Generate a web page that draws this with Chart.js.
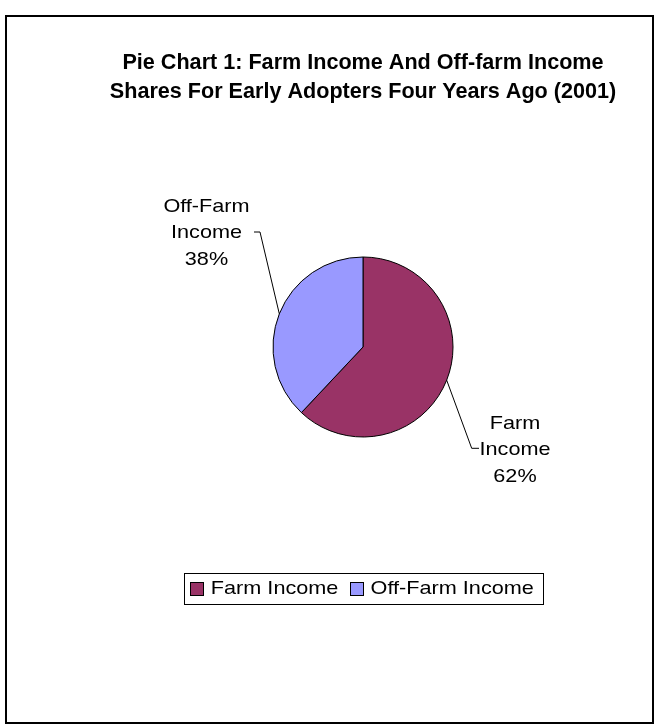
<!DOCTYPE html>
<html>
<head>
<meta charset="utf-8">
<script src="https://cdn.jsdelivr.net/npm/chart.js@4.4.1/dist/chart.umd.min.js"></script>
<style>
html,body{margin:0;padding:0;background:#fff;}
#wrap{width:655px;height:725px;position:relative;}
canvas{display:block;}
</style>
</head>
<body>
<div id="wrap"><canvas id="c" width="655" height="725"></canvas></div>
<script>
// ---- data ----
const categories = ['Farm Income', 'Off-Farm Income'];
const shares = [62, 38];
const titleLines = ['Pie Chart 1: Farm Income And Off-farm Income', 'Shares For Early Adopters Four Years Ago (2001)'];

const FONT = "Arial, 'Liberation Sans', Helvetica, sans-serif";

const framePlugin = {
  id: 'frame',
  beforeDraw(chart) {
    const ctx = chart.ctx;
    ctx.save();
    ctx.fillStyle = '#fff';
    ctx.fillRect(0, 0, chart.width, chart.height);
    ctx.strokeStyle = '#000';
    ctx.lineWidth = 2;
    ctx.strokeRect(6, 16, 647, 707);
    ctx.restore();
  }
};

function stretchedText(ctx, text, x, y, sx) {
  ctx.save();
  ctx.translate(x, y);
  ctx.scale(sx, 1);
  ctx.fillText(text, 0, 0);
  ctx.restore();
}

const sliceLabelPlugin = {
  id: 'sliceLabels',
  afterDatasetsDraw(chart, args, opts) {
    const meta = chart.getDatasetMeta(0);
    const data = chart.data.datasets[0].data;
    const total = data.reduce((a, b) => a + b, 0);
    const ctx = chart.ctx;
    ctx.save();
    ctx.font = opts.fontSize + 'px ' + FONT;
    ctx.fillStyle = '#000';
    ctx.textAlign = 'center';
    ctx.textBaseline = 'middle';
    meta.data.forEach((arc, i) => {
      const p = arc.getProps(['x', 'y', 'startAngle', 'endAngle', 'outerRadius'], true);
      const mid = (p.startAngle + p.endAngle) / 2;
      const ex = p.x + Math.cos(mid) * p.outerRadius;
      const ey = p.y + Math.sin(mid) * p.outerRadius;
      const pl = opts.placements[i];
      const lx = p.x + pl.dx * p.outerRadius;
      const ly = p.y + pl.dy * p.outerRadius;
      const bx = lx + pl.elbowDx, by = ly + pl.elbowDy;
      ctx.beginPath();
      ctx.moveTo(ex, ey);
      ctx.lineTo(bx, by);
      ctx.lineTo(bx + pl.tick, by);
      ctx.strokeStyle = '#000';
      ctx.lineWidth = 1;
      ctx.stroke();
      const pct = Math.round(data[i] / total * 100) + '%';
      const lines = chart.data.labels[i].split(' ').concat([pct]);
      lines.forEach((t, k) => {
        stretchedText(ctx, t, lx, ly + (k - (lines.length - 1) / 2) * opts.lineHeight, opts.scaleX);
      });
    });
    ctx.restore();
  }
};

const boxLegendPlugin = {
  id: 'boxLegend',
  afterDraw(chart, args, opts) {
    const ctx = chart.ctx;
    const ds = chart.data.datasets[0];
    ctx.save();
    ctx.font = opts.fontSize + 'px ' + FONT;
    const items = chart.data.labels.map((l, i) => ({
      text: l,
      color: ds.backgroundColor[i],
      w: ctx.measureText(l).width * opts.scaleX
    }));
    let total = opts.padL + opts.padR + opts.itemGap * (items.length - 1);
    items.forEach(it => { total += opts.box + opts.gap + it.w; });
    const meta = chart.getDatasetMeta(0);
    const cx = meta.data[0].x + opts.shiftX;
    const left = cx - total / 2;
    const top = opts.top, h = opts.height;
    const cy = top + h / 2;
    ctx.strokeStyle = '#000';
    ctx.lineWidth = 1;
    ctx.strokeRect(Math.round(left) + 0.5, top + 0.5, Math.round(total), h);
    let x = left + opts.padL;
    ctx.textAlign = 'left';
    ctx.textBaseline = 'middle';
    items.forEach(it => {
      ctx.fillStyle = it.color;
      const bx = Math.round(x), by = Math.round(cy - opts.box / 2);
      ctx.fillRect(bx, by, opts.box, opts.box);
      ctx.strokeStyle = '#000';
      ctx.strokeRect(bx + 0.5, by + 0.5, opts.box - 1, opts.box - 1);
      x += opts.box + opts.gap;
      ctx.fillStyle = '#000';
      stretchedText(ctx, it.text, x, cy, opts.scaleX);
      x += it.w + opts.itemGap;
    });
    ctx.restore();
  }
};

new Chart(document.getElementById('c'), {
  type: 'pie',
  data: {
    labels: categories,
    datasets: [{
      data: shares,
      backgroundColor: ['#993366', '#9999FF'],
      borderColor: '#000000',
      borderWidth: 1,
      radius: 90
    }]
  },
  plugins: [framePlugin, sliceLabelPlugin, boxLegendPlugin],
  options: {
    responsive: false,
    devicePixelRatio: 1,
    animation: false,
    events: [],
    layout: { padding: { top: 20, bottom: 137.5, left: 80, right: 9 } },
    plugins: {
      legend: { display: false },
      tooltip: { enabled: false },
      title: {
        display: true,
        text: titleLines,
        color: '#000',
        font: { family: FONT, size: 21.6, weight: 'bold', lineHeight: 29 / 21.6 },
        padding: { top: 28.5, bottom: 0 }
      },
      sliceLabels: {
        fontSize: 19,
        scaleX: 1.14,
        lineHeight: 26.7,
        placements: [
          { dx: 152 / 90, dy: 103 / 90, elbowDx: -43.3, elbowDy: -1.7, tick: 7.3 },
          { dx: -156.5 / 90, dy: -114 / 90, elbowDx: 53.5, elbowDy: -1, tick: -6 }
        ]
      },
      boxLegend: {
        fontSize: 19,
        scaleX: 1.14,
        box: 14,
        gap: 6.5,
        itemGap: 11.7,
        padL: 6.5,
        padR: 9.3,
        top: 573,
        height: 31,
        shiftX: 0.5
      }
    }
  }
});
</script>
</body>
</html>
